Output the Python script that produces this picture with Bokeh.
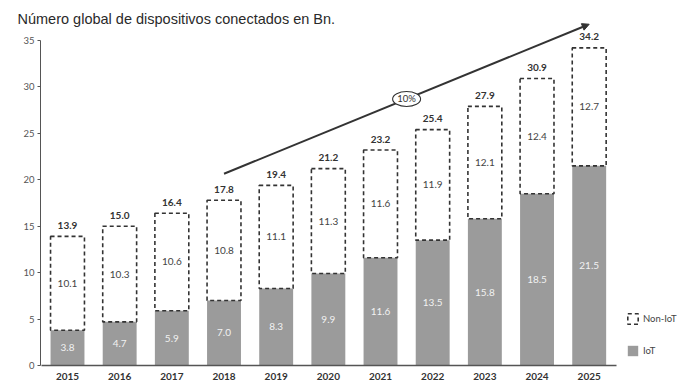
from bokeh.plotting import figure
from bokeh.models import (ColumnDataSource, Range1d, FixedTicker, Label, Arrow,
                          NormalHead, Legend, LegendItem)
from bokeh.core.properties import value
from bokeh.embed import file_html
from bokeh.resources import INLINE

years = [2015, 2016, 2017, 2018, 2019, 2020, 2021, 2022, 2023, 2024, 2025]
iot = [3.8, 4.7, 5.9, 7.0, 8.3, 9.9, 11.6, 13.5, 15.8, 18.5, 21.5]
non_iot = [10.1, 10.3, 10.6, 10.8, 11.1, 11.3, 11.6, 11.9, 12.1, 12.4, 12.7]
totals = [13.9, 15.0, 16.4, 17.8, 19.4, 21.2, 23.2, 25.4, 27.9, 30.9, 34.2]
y_ticks = [0, 5, 10, 15, 20, 25, 30, 35]
title_text = "Número global de dispositivos conectados en Bn."
cagr_text = "10%"
cagr_from, cagr_to = 3, 10  # arrow from 2018 to 2025

NUM_FONT = "Lato"
DARK = "#333333"
GRAY = "#9b9b9b"

src = ColumnDataSource(dict(
    x=years,
    iot=iot,
    non=non_iot,
    tot=totals,
    iot_mid=[v / 2 for v in iot],
    non_mid=[(a + b) / 2 for a, b in zip(iot, totals)],
    iot_lbl=[f"{v:.1f}" for v in iot],
    non_lbl=[f"{v:.1f}" for v in non_iot],
    tot_lbl=[f"{v:.1f}" for v in totals],
))

TOP = 20  # height of the title band above the plot frame
p = figure(width=680, height=386, output_backend="svg", toolbar_location=None,
           x_range=Range1d(2014.4825, 2026.75),
           y_range=Range1d(0, (365 - TOP) / 9.286),
           min_border_left=40, min_border_right=0, min_border_top=TOP,
           min_border_bottom=21)
p.outline_line_color = None
p.xgrid.grid_line_color = None
p.ygrid.grid_line_color = None
p.background_fill_color = "white"
p.border_fill_color = "white"

# axes
p.yaxis.ticker = FixedTicker(ticks=y_ticks)
p.yaxis.bounds = (0, 35)
p.yaxis.minor_tick_line_color = None
p.yaxis.major_tick_out = 3
p.yaxis.major_tick_in = 0
p.yaxis.axis_line_color = "#555555"
p.yaxis.major_tick_line_color = "#555555"
p.yaxis.major_label_text_font = NUM_FONT
p.yaxis.major_label_text_font_size = "9.5px"
p.yaxis.major_label_text_color = "#555555"
p.yaxis.major_label_standoff = 3

p.xaxis.ticker = FixedTicker(ticks=years)
p.xaxis.bounds = (2014.5, 2025.52)
p.xaxis.minor_tick_line_color = None
p.xaxis.major_tick_out = 0
p.xaxis.major_tick_in = 0
p.xaxis.axis_line_color = "#555555"
p.xaxis.axis_line_width = 1.3
p.xaxis.major_label_text_font = NUM_FONT
p.xaxis.major_label_text_font_size = "10px"
p.xaxis.major_label_text_font_style = "bold"
p.xaxis.major_label_text_color = DARK
p.xaxis.major_label_standoff = 7

# growth arrow + CAGR ellipse
x0, x1 = years[cagr_from], years[cagr_to]
y0, y1 = totals[cagr_from] + 2.85, totals[cagr_to] + 2.55
arrow = Arrow(end=NormalHead(size=7, fill_color=DARK, line_color=DARK),
              x_start=x0, y_start=y0, x_end=x1, y_end=y1,
              line_color=DARK, line_width=2, level="underlay")
p.add_layout(arrow)
xm = x0 + (x1 - x0) * 0.5
ym = y0 + (y1 - y0) * 0.5
p.ellipse(x=[xm], y=[ym], width=28, height=15, width_units="screen",
          height_units="screen", fill_color="white", line_color=DARK, line_width=1.1)
p.text(x=[xm], y=[ym], text=[cagr_text], text_font=value(NUM_FONT),
       text_font_size="9.5px", text_color=DARK, text_align="center",
       text_baseline="middle")

# bars
r_iot = p.vbar(x="x", bottom=0, top="iot", width=0.65, source=src,
               fill_color=GRAY, line_color=None)
r_non = p.vbar(x="x", bottom="iot", top="tot", width=0.65, source=src,
               fill_color=None, line_color=DARK, line_width=1.6, line_dash="4 3")

p.text(x="x", y="iot_mid", text="iot_lbl", source=src, text_font=value(NUM_FONT),
       text_font_size="10px", text_color="#f2f2f2", text_align="center",
       text_baseline="middle")
p.text(x="x", y="non_mid", text="non_lbl", source=src, text_font=value(NUM_FONT),
       text_font_size="10px", text_color="#444444", text_align="center",
       text_baseline="middle")
p.text(x="x", y="tot", text="tot_lbl", source=src, text_font=value(NUM_FONT),
       text_font_size="10px", text_font_style="bold", text_color=DARK,
       text_align="center", text_baseline="middle", y_offset=-11)

# title (in the top side panel so it is not clipped to the frame)
p.add_layout(Label(x=-23, y=2, x_units="screen", y_units="screen", text=title_text,
                   text_font="Liberation Sans", text_font_size="14.5px",
                   text_color="#2a2a2a", text_baseline="middle"), "above")

# legend
legend = Legend(items=[LegendItem(label="Non-IoT", renderers=[r_non]),
                       LegendItem(label="IoT", renderers=[r_iot])],
                location=(586, 8), glyph_width=13, glyph_height=13,
                label_height=13, label_standoff=4, spacing=19, padding=0,
                margin=0, border_line_color=None, background_fill_alpha=0,
                label_text_font=NUM_FONT, label_text_font_size="9.5px",
                label_text_color="#444444")
p.add_layout(legend)

open("out.html", "w").write(file_html(p, INLINE))
